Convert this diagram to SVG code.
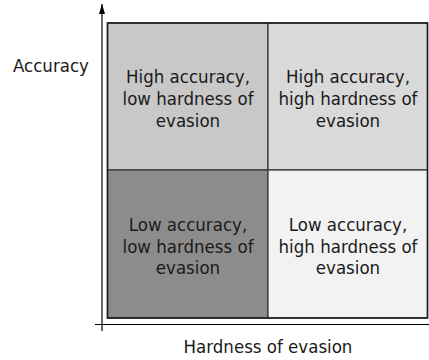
<svg xmlns="http://www.w3.org/2000/svg" width="429" height="360" viewBox="0 0 429 360">
<style>
text{font-family:"DejaVu Sans Condensed","DejaVu Sans",Verdana,sans-serif;font-stretch:condensed;font-size:18.5px;fill:#1a1a1a;text-anchor:middle}
.cell{stroke:#3a3a3a;stroke-width:1.3}
.axis{stroke:#000;stroke-width:1.2;fill:none}
</style>
<defs>
<marker id="arr" viewBox="0 0 10 6" refX="10" refY="3" markerWidth="10" markerHeight="6" markerUnits="userSpaceOnUse" orient="auto">
<path d="M0,0 L10,3 L0,6 Z" fill="#000"/>
</marker>
</defs>
<g id="connectors">
<line class="axis" x1="102" y1="331" x2="102" y2="4" marker-end="url(#arr)"/>
<line class="axis" x1="95" y1="324.5" x2="429" y2="324.5"/>
</g>
<g id="q-hl">
<rect class="cell" x="107.5" y="23" width="160.5" height="147" fill="#c8c8c8"/>
<text x="188" y="83">High accuracy,</text>
<text x="188" y="104.8">low hardness of</text>
<text x="188" y="126.6">evasion</text>
</g>
<g id="q-hh">
<rect class="cell" x="268" y="23" width="159.5" height="147" fill="#d9d9d9"/>
<text x="348" y="83">High accuracy,</text>
<text x="348" y="104.8">high hardness of</text>
<text x="348" y="126.6">evasion</text>
</g>
<g id="q-ll">
<rect class="cell" x="107.5" y="170" width="160.5" height="148" fill="#8c8c8c"/>
<text x="188" y="230.8">Low accuracy,</text>
<text x="188" y="252.5">low hardness of</text>
<text x="188" y="274.3">evasion</text>
</g>
<g id="q-lh">
<rect class="cell" x="268" y="170" width="159.5" height="148" fill="#f2f2f2"/>
<text x="348" y="230.8">Low accuracy,</text>
<text x="348" y="252.5">high hardness of</text>
<text x="348" y="274.3">evasion</text>
</g>
<rect x="107.5" y="23" width="320" height="295" fill="none" stroke="#1a1a1a" stroke-width="1.5"/>
<g id="labels">
<text x="51" y="72">Accuracy</text>
<text x="268" y="352.5">Hardness of evasion</text>
</g>
</svg>
